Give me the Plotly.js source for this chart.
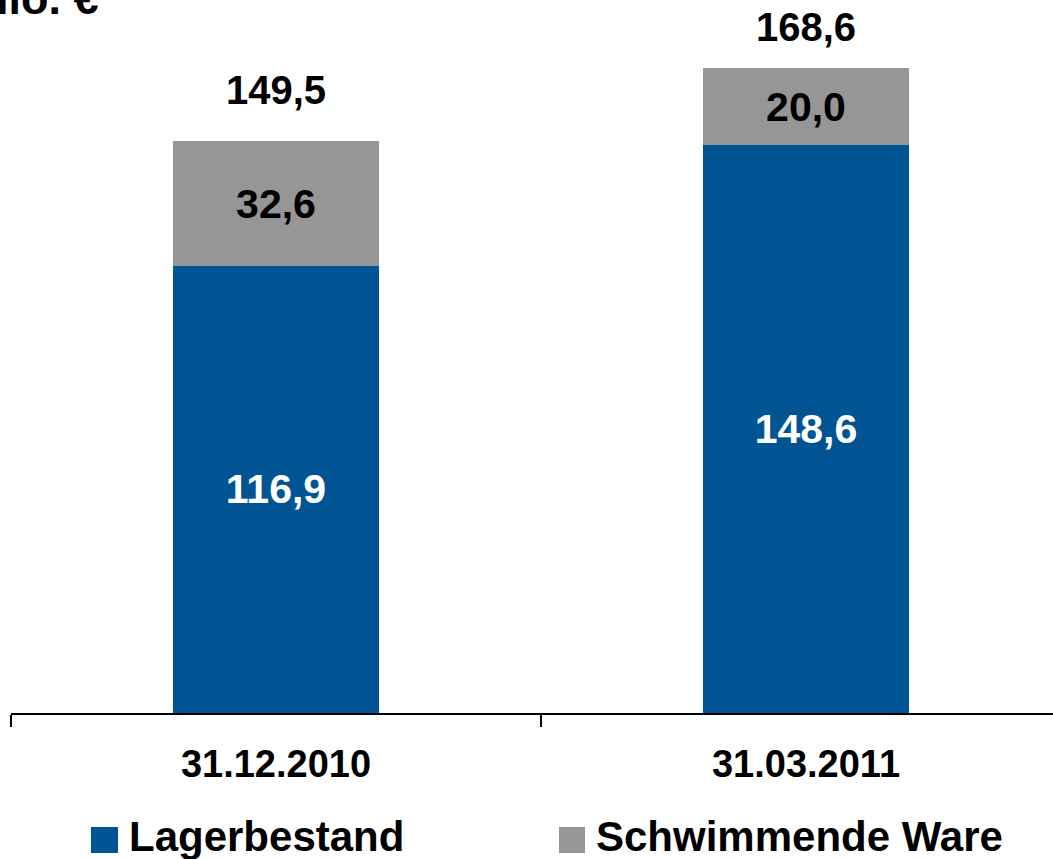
<!DOCTYPE html>
<html>
<head>
<meta charset="utf-8">
<script src="https://cdn.plot.ly/plotly-3.0.1.min.js"></script>
<style>html,body{margin:0;padding:0;background:#fff;overflow:hidden;}#chart{width:1053px;height:859px;}</style>
</head>
<body>
<div id="chart"></div>
<script>
const categories = ["31.12.2010", "31.03.2011"];
const lagerbestand = [116.9, 148.6];
const schwimmendeWare = [32.6, 20.0];
const seriesNames = ["Lagerbestand", "Schwimmende Ware"];
const unitLabel = "Mio. €";

const totals = categories.map((c, i) => +(lagerbestand[i] + schwimmendeWare[i]).toFixed(1));

const W = 1053, H = 859;
const mL = 11, mR = 0, mT = 0, mB = 146;
const plotW = W - mL - mR, plotH = H - mT - mB;
const px2x = p => (p - mL) / plotW;
const px2y = p => (H - mB - p) / plotH;

const FONT = "Liberation Sans, Arial, sans-serif";
const BLUE = "#005493";
const GRAY = "#969696";
const totalShift = [51, 41];

const traces = [
  {
    type: "bar", name: seriesNames[0], x: categories, y: lagerbestand,
    marker: {color: BLUE}, width: 0.389,
    texttemplate: "%{y:.1f}", textposition: "inside", insidetextanchor: "middle",
    textfont: {family: FONT, size: 41, color: "#ffffff", weight: "bold"},
    constraintext: "none", hoverinfo: "skip"
  },
  {
    type: "bar", name: seriesNames[1], x: categories, y: schwimmendeWare,
    marker: {color: GRAY}, width: 0.389,
    texttemplate: "%{y:.1f}", textposition: "inside", insidetextanchor: "middle",
    textfont: {family: FONT, size: 41, color: "#000000", weight: "bold"},
    constraintext: "none", hoverinfo: "skip"
  }
];

const annotations = categories.map((c, i) => ({
  x: c, y: totals[i], xref: "x", yref: "y",
  text: totals[i].toFixed(1).replace(".", ","),
  showarrow: false, yanchor: "middle", yshift: totalShift[i],
  font: {family: FONT, size: 40, color: "#000", weight: "bold"}
}));

annotations.push({
  xref: "paper", yref: "paper", x: px2x(-31), y: px2y(-1),
  xanchor: "left", yanchor: "middle", text: unitLabel, showarrow: false,
  font: {family: FONT, size: 45, color: "#000", weight: "bold"}
});

const legendItems = [
  {name: seriesNames[0], color: BLUE, sq: [91, 118], tx: 128},
  {name: seriesNames[1], color: GRAY, sq: [559, 585], tx: 595}
];
const shapes = [];
legendItems.forEach(it => {
  shapes.push({type: "rect", xref: "paper", yref: "paper",
    x0: px2x(it.sq[0]), x1: px2x(it.sq[1]), y0: px2y(853), y1: px2y(827),
    fillcolor: it.color, line: {width: 0}});
  annotations.push({xref: "paper", yref: "paper", x: px2x(it.tx), y: px2y(837),
    xanchor: "left", yanchor: "middle", text: it.name, showarrow: false, borderpad: 0,
    font: {family: FONT, size: 42, color: "#000", weight: "bold"}});
});

const layout = {
  width: W, height: H,
  margin: {l: mL, r: mR, t: mT, b: mB, pad: 0},
  paper_bgcolor: "#fff", plot_bgcolor: "#fff",
  barmode: "stack", showlegend: false,
  separators: ",.",
  xaxis: {
    type: "category", range: [-0.5, -0.5 + plotW / 530],
    showline: true, linecolor: "#000", linewidth: 2,
    ticks: "outside", ticklen: 12, tickwidth: 2, tickcolor: "#000",
    tickson: "boundaries", showgrid: false, zeroline: false,
    tickfont: {family: FONT, size: 38, color: "#000", weight: "bold"},
    ticklabelstandoff: 16
  },
  yaxis: {visible: false, range: [0, plotH / 3.824], showgrid: false, zeroline: false},
  annotations: annotations,
  shapes: shapes
};

Plotly.newPlot("chart", traces, layout, {staticPlot: true, displayModeBar: false});
</script>
</body>
</html>
